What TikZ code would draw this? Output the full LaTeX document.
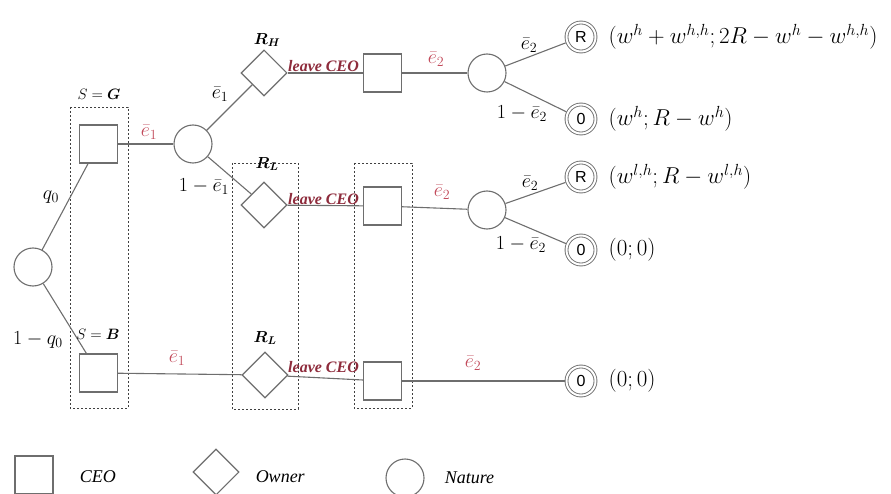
\RequirePackage{fix-cm}
\documentclass[tikz,border=0pt]{standalone}
\usepackage{amsmath}
\usepackage{bm}
\usepackage{fontspec}
\setmainfont{Liberation Serif}
\newfontfamily\termfont{Liberation Sans}
\usetikzlibrary{shapes.geometric,positioning}
\definecolor{gtline}{HTML}{6E6E6E}
\definecolor{gtred}{HTML}{C24B5B}
\definecolor{gtdeep}{HTML}{8E2C3C}
\newcommand{\eb}[1]{\bar{e}_{#1}}

\begin{document}
\begin{tikzpicture}[x=1pt,y=-1pt,
  ceo/.style={draw=gtline,line width=1.1pt,minimum size=38pt,inner sep=0pt,fill=white},
  own/.style={diamond,draw=gtline,line width=1.1pt,minimum size=46pt,inner sep=0pt,fill=white},
  nat/.style={circle,draw=gtline,line width=1.1pt,minimum size=38pt,inner sep=0pt,fill=white},
  term/.style={circle,draw=gtline,line width=0.9pt,double,double distance=2pt,minimum size=29pt,
  inner sep=0pt,outer sep=1.9pt,font=\termfont\fontsize{16}{16}\selectfont},
  edge/.style={gtline,line width=1.1pt},
  lbl/.style={font=\fontsize{20}{22}\selectfont,inner sep=0pt},
  act/.style={lbl,text=gtred},
  pay/.style={font=\fontsize{23}{25}\selectfont,inner sep=0pt,right=11pt of #1},
  lv/.style={font=\bfseries\itshape\fontsize{16}{18}\selectfont,text=gtdeep,inner sep=0pt,anchor=base west},
  info/.style={draw=black!75,line width=0.7pt,dash pattern=on 2pt off 2pt},
  leg/.style={font=\itshape\fontsize{18}{20}\selectfont,inner sep=0pt}]
\useasboundingbox (0,0) rectangle (891,494);
% information sets
\draw[info] (70,107) rectangle (128,408);\draw[info] (232,163) rectangle (298,409);\draw[info] (354,163) rectangle (412,408);
% nodes
\node[nat] (root) at (33,267) {};
\node[ceo] (sg) at (98.5,144) {};\node[ceo] (sb) at (98.5,373) {};
\node[nat] (n1) at (193,144) {};
\node[own] (rh) at (264,73) {};\node[own] (rl1) at (264,205) {};\node[own] (rl2) at (265,375) {};
\node[ceo] (c1) at (382.5,73) {};\node[ceo] (c2) at (382.5,206) {};\node[ceo] (c3) at (382.5,381) {};
\node[nat] (n2) at (487,73) {};\node[nat] (n3) at (487,210) {};
\node[term] (t1) at (581,37) {R};\node[term] (t2) at (581,119) {0};\node[term] (t3) at (581,177) {R};\node[term] (t4) at (581,250) {0};\node[term] (t5) at (581,381) {0};
% branches
\draw[edge] (root) -- (sg);\draw[edge] (root) -- (sb);\draw[edge] (sg) -- (n1);\draw[edge] (n1) -- (rh);\draw[edge] (n1) -- (rl1);
\draw[edge] (rh) -- (c1);\draw[edge] (rl1) -- (c2);\draw[edge] (sb) -- (rl2);\draw[edge] (rl2) -- (c3);
\draw[edge] (c1) -- (n2);\draw[edge] (c2) -- (n3);\draw[edge] (c3) -- (t5);
\draw[edge] (n2) -- (t1);\draw[edge] (n2) -- (t2);\draw[edge] (n3) -- (t3);\draw[edge] (n3) -- (t4);
% labels
\node[lbl,font=\fontsize{15}{17}\selectfont] (lsg) at (99,94) {$S=\bm{G}$};\node[lbl,font=\fontsize{15}{17}\selectfont] (lsb) at (98,334) {$S=\bm{B}$};
\node[lbl] (lq) at (51,197) {$q_0$};\node[lbl] (lq1) at (38,340) {$1-q_0$};
\node[act] (le1) at (149,132) {$\eb{1}$};\node[lbl] (le1u) at (220,94) {$\eb{1}$};\node[lbl] (le1d) at (204,187) {$1-\eb{1}$};\node[act] (le1b) at (177,358) {$\eb{1}$};
\node[lbl,font=\fontsize{16}{18}\selectfont] (lrh) at (267,40) {$\bm{R_H}$};\node[lbl,font=\fontsize{16}{18}\selectfont] (lrl1) at (267,164) {$\bm{R_L}$};\node[lbl,font=\fontsize{16}{18}\selectfont] (lrl2) at (265,338) {$\bm{R_L}$};
\node[lv] (lv1) at (288,72) {leave CEO};\node[lv] (lv2) at (288,205) {leave CEO};\node[lv] (lv3) at (288,372) {leave CEO};
\node[act] (le2a) at (436,59) {$\eb{2}$};\node[act] (le2b) at (442,192) {$\eb{2}$};\node[act] (le2c) at (473,363) {$\eb{2}$};
\node[lbl] (le2u) at (529,45) {$\eb{2}$};\node[lbl] (le2d) at (522,114) {$1-\eb{2}$};\node[lbl] (le3u) at (530,183) {$\eb{2}$};\node[lbl] (le3d) at (521,245) {$1-\eb{2}$};
% payoffs
\node[pay=t1] (p1) {$(w^h+w^{h,h};2R-w^h-w^{h,h})$};\node[pay=t2] (p2) {$(w^h;R-w^h)$};\node[pay=t3] (p3) {$(w^{l,h};R-w^{l,h})$};
\node[pay=t4] (p4) {$(0;0)$};\node[pay=t5] (p5) {$(0;0)$};
% legend
\node[ceo] (kc) at (34,475) {};\node[leg,right=26pt of kc,yshift=-2pt] (kct) {CEO};
\node[own] (ko) at (216,472) {};\node[leg,right=16pt of ko,yshift=-5pt] (kot) {Owner};
\node[nat] (kn) at (405,478) {};\node[leg,right=20pt of kn] (knt) {Nature};
\end{tikzpicture}
\end{document}
